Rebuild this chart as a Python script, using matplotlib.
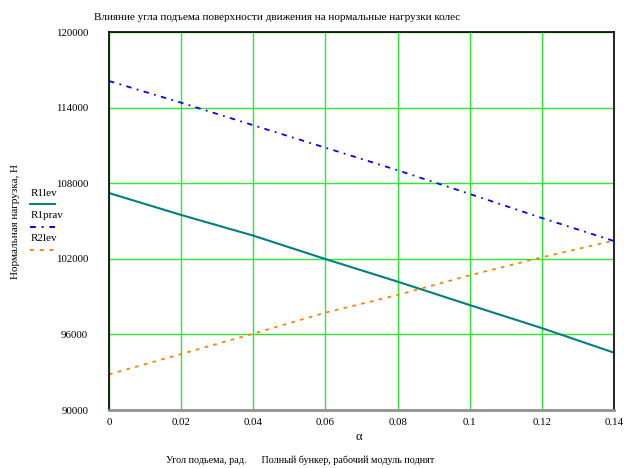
import matplotlib
matplotlib.use("Agg")
import matplotlib.pyplot as plt
from matplotlib.lines import Line2D

plt.rcParams['font.family'] = ['Liberation Serif', 'DejaVu Serif']

# Data
alpha = [0.0, 0.02, 0.04, 0.06, 0.08, 0.10, 0.12, 0.14]
r1lev = [107220, 105480, 103840, 101980, 100190, 98330, 96500, 94550]
r1prav = [116110, 114390, 112600, 110820, 109030, 107150, 105240, 103410]
r2lev = [92830, 94440, 96060, 97730, 99130, 100690, 102120, 103450]

x_ticks = [0, 0.02, 0.04, 0.06, 0.08, 0.1, 0.12, 0.14]
x_labels = ['0', '0.02', '0.04', '0.06', '0.08', '0.1', '0.12', '0.14']
y_ticks = [90000, 96000, 102000, 108000, 114000, 120000]

fig = plt.figure(figsize=(6.28, 4.68), dpi=100)
ax = fig.add_axes([0.1736, 0.1239, 0.8041, 0.8077])

ax.plot(alpha, r1lev, color='#008080', lw=1.5, label='R1lev')
ax.plot(alpha, r1prav, color='#0000ff', lw=1.3, ls=(0, (3, 3, 1, 3)), label='R1prav')
ax.plot(alpha, r2lev, color='#ff8000', lw=1.3, ls=(0, (2, 3)), label='R2lev')

ax.set_xlim(0, 0.14)
ax.set_ylim(90000, 120000)
ax.set_xticks(x_ticks)
ax.set_xticklabels(x_labels)
ax.set_yticks(y_ticks)
ax.grid(True, color='#2ee82e', lw=1)
ax.set_axisbelow(True)
ax.tick_params(length=0, labelsize=7.8)
ax.tick_params(axis='y', pad=15)
ax.tick_params(axis='x', pad=6)

for s in ['left', 'top', 'right']:
    ax.spines[s].set_color('black')
    ax.spines[s].set_linewidth(1.2)
ax.spines['bottom'].set_color('#909090')
ax.spines['bottom'].set_linewidth(2)

ax.set_ylabel('Нормальная нагрузка, Н', fontsize=8)
ax.yaxis.set_label_coords(-0.176, 0.5)

# title and bottom texts
fig.text(0.441, 0.963, 'Влияние угла подъема поверхности движения на нормальные нагрузки колес',
         ha='center', va='center', fontsize=8)
fig.text(0.572, 0.066, 'α', ha='center', va='center', fontsize=9)
fig.text(0.478, 0.017, 'Угол подьема, рад.      Полный бункер, рабочий модуль поднят',
         ha='center', va='center', fontsize=7.3)

# legend at left, text above line sample
leg = [('R1lev', '#008080', '-', 193), ('R1prav', '#0000ff', (0, (3, 3, 1, 3)), 216),
       ('R2lev', '#ff8000', (0, (2, 3)), 239)]
for name, c, ls, ypix in leg:
    fig.text(31 / 628, 1 - ypix / 468, name, ha='left', va='center', fontsize=8)
    yl = 1 - (ypix + 11) / 468
    fig.add_artist(Line2D([30 / 628, 55 / 628], [yl, yl], color=c, ls=ls, lw=1.4))

fig.savefig('out.png', dpi=100)
